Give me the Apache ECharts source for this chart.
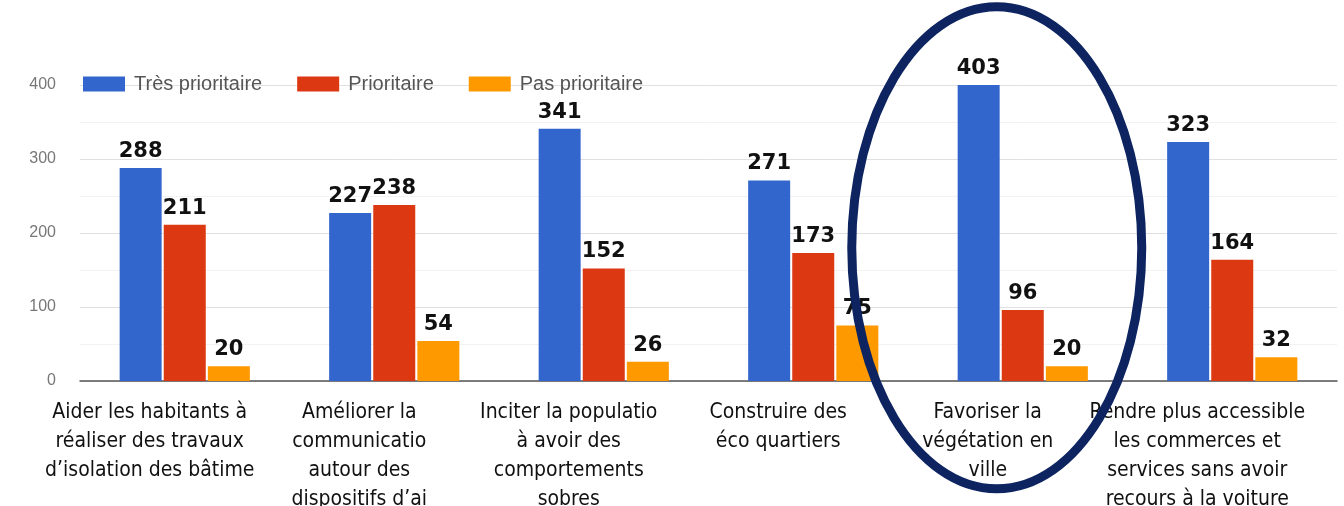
<!DOCTYPE html>
<html>
<head>
<meta charset="utf-8">
<script src="https://cdn.jsdelivr.net/npm/echarts@6/dist/echarts.min.js"></script>
<style>
  html, body { margin: 0; padding: 0; background: #fff; }
  #chart { width: 1344px; height: 506px; }
</style>
</head>
<body>
<div id="chart"></div>
<script>
// catégories (lignes telles qu'elles apparaissent, coupées dans l'original)
const categories = [
  ['Aider les habitants à', 'réaliser des travaux', 'd\u2019isolation des bâtime'],
  ['Améliorer la', 'communicatio', 'autour des', 'dispositifs d\u2019ai'],
  ['Inciter la populatio', 'à avoir des', 'comportements', 'sobres'],
  ['Construire des', 'éco quartiers'],
  ['Favoriser la', 'végétation en', 'ville'],
  ['Rendre plus accessible', 'les commerces et', 'services sans avoir', 'recours à la voiture']
]
const seriesNames = ['Très prioritaire', 'Prioritaire', 'Pas prioritaire']
const tresPrioritaire = [288, 227, 341, 271, 403, 323]
const prioritaire = [211, 238, 152, 173, 96, 164]
const pasPrioritaire = [20, 54, 26, 75, 20, 32]
const yTicks = [0, 100, 200, 300, 400]
const highlightIndex = 4

const colors = ['#3366cc', '#dc3912', '#ff9900']
const values = [tresPrioritaire, prioritaire, pasPrioritaire]

const chart = echarts.init(document.getElementById('chart'))

const labelStyle = {
  show: true,
  position: 'top',
  distance: 6,
  color: '#111',
  fontFamily: 'DejaVu Sans',
  fontWeight: 'bold',
  fontSize: 21
}

const series = seriesNames.map((name, i) => ({
  name,
  type: 'bar',
  data: values[i],
  barWidth: 42,
  barGap: '5%',
  itemStyle: { color: colors[i] },
  label: labelStyle
}))

chart.setOption({
  animation: false,
  legend: {
    data: seriesNames,
    left: 78,
    top: 69,
    itemWidth: 42,
    itemHeight: 15,
    itemGap: 35,
    icon: 'rect',
    textStyle: {
      color: '#555',
      fontFamily: 'Liberation Sans',
      fontSize: 20,
      padding: [0, 0, 0, 4]
    }
  },
  grid: {
    left: 80,
    right: 7,
    top: 85,
    bottom: 125,
    outerBoundsMode: 'none'
  },
  xAxis: {
    type: 'category',
    data: categories.map(lines => lines.join('\n')),
    axisTick: { show: false },
    axisLine: { lineStyle: { color: '#555', width: 1.5 } },
    axisLabel: {
      interval: 0,
      margin: 17,
      color: '#111',
      fontFamily: 'DejaVu Sans Condensed, Liberation Sans Narrow, DejaVu Sans',
      fontSize: 21,
      lineHeight: 29,
      padding: [0, 70, 0, 0]
    }
  },
  yAxis: {
    type: 'value',
    min: yTicks[0],
    max: yTicks[yTicks.length - 1],
    interval: 100,
    axisLine: { show: false },
    axisTick: { show: false },
    axisLabel: {
      margin: 24,
      color: '#777',
      fontFamily: 'Liberation Sans',
      fontSize: 16
    },
    splitLine: { lineStyle: { color: '#e0e0e0' } },
    minorTick: { show: false, splitNumber: 2 },
    minorSplitLine: { show: true, lineStyle: { color: '#f2f2f2' } }
  },
  series
})

// ellipse autour de la catégorie mise en avant
const cx = chart.convertToPixel({ xAxisIndex: 0 }, highlightIndex) - 26
const cy = chart.convertToPixel({ yAxisIndex: 0 }, 180)
chart.setOption({
  graphic: [{
    type: 'ellipse',
    shape: { cx, cy, rx: 145, ry: 241 },
    style: { fill: 'none', stroke: '#0d2461', lineWidth: 9 },
    z: 100
  }]
})
</script>
</body>
</html>
